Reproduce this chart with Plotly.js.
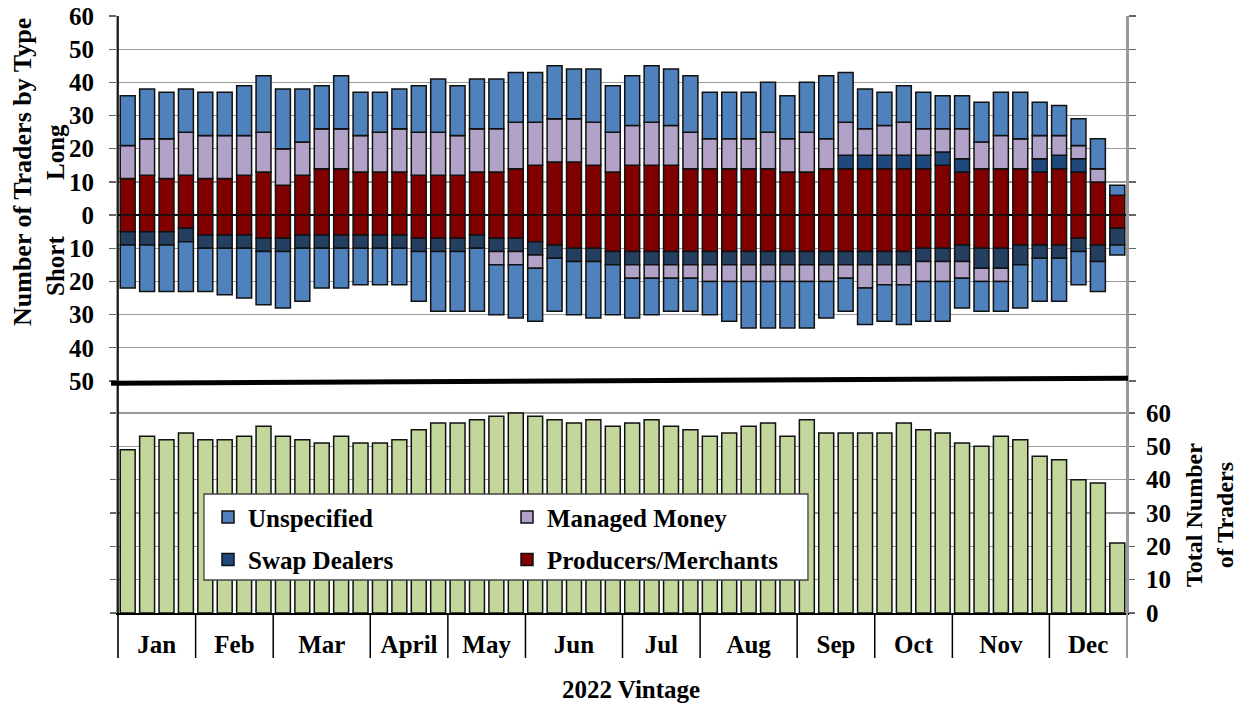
<!DOCTYPE html>
<html>
<head>
<meta charset="utf-8">
<script src="https://cdn.plot.ly/plotly-3.0.1.min.js"></script>
<style>html,body{margin:0;padding:0;background:#fff}#chart{width:1238px;height:704px}</style>
</head>
<body>
<div id="chart"></div>
<script>
// ---- Data ----
const months = ['Jan','Feb','Mar','April','May','Jun','Jul','Aug','Sep','Oct','Nov','Dec'];
const weeksPerMonth = [4,4,5,4,4,5,4,5,4,4,5,4];

// Long positions (number of traders)
const longProducers = [11,12,11,12,11,11,12,13,9,12,14,14,13,13,13,12,12,12,13,13,14,15,16,16,15,13,15,15,15,14,14,14,14,14,13,13,14,14,14,14,14,14,15,13,14,14,14,13,14,13,10,6];
const longSwap      = [0,0,0,0,0,0,0,0,0,0,0,0,0,0,0,0,0,0,0,0,0,0,0,0,0,0,0,0,0,0,0,0,0,0,0,0,0,4,4,4,4,4,4,4,0,0,0,4,4,4,0,0];
const longManaged   = [10,11,12,13,13,13,12,12,11,10,12,12,11,12,13,13,13,12,13,13,14,13,13,13,13,12,12,13,12,11,9,9,9,11,10,12,9,10,8,9,10,8,7,9,8,10,9,7,6,4,4,0];
const longUnspec    = [15,15,14,13,13,13,15,17,18,16,13,16,13,12,12,14,16,15,15,15,15,15,16,15,16,14,15,17,17,17,14,14,14,15,13,15,19,15,12,10,11,11,10,10,12,13,14,10,9,8,9,3];

// Short positions (number of traders)
const shortProducers = [5,5,5,4,6,6,6,7,7,6,6,6,6,6,6,7,7,7,6,7,7,8,9,10,10,11,11,11,11,11,11,11,11,11,11,11,11,11,11,11,11,10,10,9,10,10,9,9,9,7,9,4];
const shortSwap      = [4,4,4,4,4,4,4,4,4,4,4,4,4,4,4,4,4,4,4,4,4,4,4,4,4,4,4,4,4,4,4,4,4,4,4,4,4,4,4,4,4,4,4,5,6,6,6,4,4,4,5,5];
const shortManaged   = [0,0,0,0,0,0,0,0,0,0,0,0,0,0,0,0,0,0,0,4,4,4,0,0,0,0,4,4,4,4,5,5,5,5,5,5,5,4,7,6,6,6,6,5,4,4,0,0,0,0,0,0];
const shortUnspec    = [13,14,14,15,13,14,15,16,17,16,12,12,11,11,11,15,18,18,19,15,16,16,16,16,17,15,12,11,10,10,10,12,14,14,14,14,11,10,11,11,12,12,12,9,9,9,13,13,13,10,9,3];

// Total number of traders
const totalTraders = [49,53,52,54,52,52,53,56,53,52,51,53,51,51,52,55,57,57,58,59,60,59,58,57,58,56,57,58,56,55,53,54,56,57,53,58,54,54,54,54,57,55,54,51,50,53,52,47,46,40,39,21];

// Tick labels
const topTickVals  = [60,50,40,30,20,10,0,-10,-20,-30,-40,-50];
const topTickText  = ['60','50','40','30','20','10','0','10','20','30','40','50'];
const bottomTickVals = [0,10,20,30,40,50,60];
const bottomTickText = ['0','10','20','30','40','50','60'];

// ---- Derived positions ----
const weeks = totalTraders.map((_, i) => i + 1);
const monthEdges = [0.5];
const monthCenters = [];
weeksPerMonth.forEach(n => {
  const start = monthEdges[monthEdges.length - 1];
  monthCenters.push(start + n / 2);
  monthEdges.push(start + n);
});
const neg = a => a.map(v => -v);

const FONT = 'Liberation Serif';
const C = {U:'#4F81BD', MM:'#B3A2C7', SDL:'#1F497D', SDS:'#243F60', PM:'#800000', TOT:'#C3D69B'};
const outline = {color:'#111', width:1.5};

function bar(name, y, color, group, legend, rank, show) {
  return {type:'bar', x:weeks, y:y, name:name, xaxis:'x2', yaxis:'y',
    marker:{color:color, line:outline}, legendgroup:group, legend:legend,
    legendrank:rank, showlegend:show, hoverinfo:'name+y'};
}

const traces = [
  bar('Producers/Merchants', longProducers, C.PM, 'PM', 'legend2', 2, true),
  bar('Producers/Merchants', neg(shortProducers), C.PM, 'PM', 'legend2', 2, false),
  bar('Swap Dealers', longSwap, C.SDL, 'SD', 'legend', 2, true),
  bar('Swap Dealers', neg(shortSwap), C.SDS, 'SD', 'legend', 2, false),
  bar('Managed Money', longManaged, C.MM, 'MM', 'legend2', 1, true),
  bar('Managed Money', neg(shortManaged), C.MM, 'MM', 'legend2', 1, false),
  bar('Unspecified', longUnspec, C.U, 'U', 'legend', 1, true),
  bar('Unspecified', neg(shortUnspec), C.U, 'U', 'legend', 1, false),
  {type:'bar', x:weeks, y:totalTraders, name:'Total', xaxis:'x', yaxis:'y2',
   marker:{color:C.TOT, line:outline}, showlegend:false}
];

const bold = (size) => ({family:FONT, size:size, color:'#000', weight:'bold'});
const TOPD = 0.3886;
const CAT = 45 / 597;   // depth of the month band below the plot, in paper units
const legendCommon = {bgcolor:'rgba(0,0,0,0)', borderwidth:0, font:bold(25),
  orientation:'v', xanchor:'left', yanchor:'top', tracegroupgap:7, traceorder:'grouped'};

const shapes = [
  {type:'rect', xref:'paper', yref:'paper', x0:0.0852, x1:0.6838, y0:0.0553, y1:0.1993,
   fillcolor:'#fff', line:{color:'#444', width:1.3}, layer:'above'},
  {type:'line', xref:'paper', yref:'paper', x0:1, x1:1, y0:-CAT, y1:1,
   line:{color:'#9a9a9a', width:2}, layer:'above'},
  {type:'line', xref:'paper', yref:'paper', x0:0, x1:0, y0:-CAT, y1:1,
   line:{color:'#000', width:1.6}, layer:'above'},
  {type:'line', xref:'paper', yref:'paper', x0:-0.0069, y0:0.3848, x1:1.001, y1:0.3931,
   line:{color:'#000', width:5}, layer:'above'}
];
monthEdges.slice(1, -1).forEach(e => shapes.push(
  {type:'line', xref:'x', yref:'paper', x0:e, x1:e, y0:-CAT, y1:0,
   line:{color:'#000', width:1.5}, layer:'above'}));

const layout = {
  width:1238, height:704,
  margin:{l:118, r:111, t:16, b:91},
  paper_bgcolor:'#fff', plot_bgcolor:'#fff',
  barmode:'relative', bargap:0.23,
  font:{family:FONT, color:'#000'},
  xaxis:{domain:[0,1], anchor:'y2', range:[0.5,52.5], tickvals:monthCenters, ticktext:months,
    ticks:'', showline:true, linecolor:'#000', linewidth:1.5, showgrid:false, zeroline:false,
    tickfont:bold(25), ticklabelstandoff:8},
  xaxis2:{domain:[0,1], anchor:'y', matches:'x', range:[0.5,52.5], showticklabels:false,
    ticks:'', showline:false, showgrid:false, zeroline:false},
  yaxis:{domain:[TOPD,1], anchor:'x2', range:[-50,60], tickvals:topTickVals, ticktext:topTickText,
    ticks:'outside', ticklen:7, tickwidth:1.3, tickcolor:'#666', showline:true, mirror:'ticks',
    linecolor:'#9a9a9a', linewidth:2, showgrid:true, gridcolor:'#9a9a9a', gridwidth:1.3, zeroline:true,
    zerolinecolor:'#000', zerolinewidth:2, tickfont:bold(25), ticklabelstandoff:10},
  yaxis2:{domain:[0,TOPD], anchor:'x', side:'right', range:[0,69.6], tickvals:bottomTickVals,
    ticktext:bottomTickText, ticks:'outside', ticklen:6, tickwidth:1.3, tickcolor:'#666',
    showline:true, mirror:'ticks', linecolor:'#9a9a9a', linewidth:2, showgrid:true, gridcolor:'#9a9a9a',
    gridwidth:1.3, zeroline:false, tickfont:bold(25), ticklabelstandoff:6},
  legend:Object.assign({x:(208-118)/1009, y:0.199}, legendCommon),
  legend2:Object.assign({x:(507-118)/1009, y:0.199}, legendCommon),
  shapes:shapes,
  annotations:[
    {text:'Number of Traders by Type', xref:'paper', yref:'paper', x:(22-118)/1009, y:(613-172)/597,
     textangle:-90, showarrow:false, font:bold(26), xanchor:'center', yanchor:'middle'},
    {text:'Long', xref:'paper', yref:'paper', x:(55-118)/1009, y:(613-152)/597,
     textangle:-90, showarrow:false, font:bold(25), xanchor:'center', yanchor:'middle'},
    {text:'Short', xref:'paper', yref:'paper', x:(55-118)/1009, y:(613-266)/597,
     textangle:-90, showarrow:false, font:bold(25), xanchor:'center', yanchor:'middle'},
    {text:'Total Number<br>of Traders', xref:'paper', yref:'paper', x:(1209-118)/1009, y:(613-515)/597,
     textangle:-90, showarrow:false, font:bold(24), xanchor:'center', yanchor:'middle'},
    {text:'2022 Vintage', xref:'paper', yref:'paper', x:(631-118)/1009, y:(613-689)/597,
     showarrow:false, font:bold(25), xanchor:'center', yanchor:'middle'}
  ]
};

Plotly.newPlot('chart', traces, layout, {displayModeBar:false, responsive:false, staticPlot:true});
</script>
</body>
</html>
